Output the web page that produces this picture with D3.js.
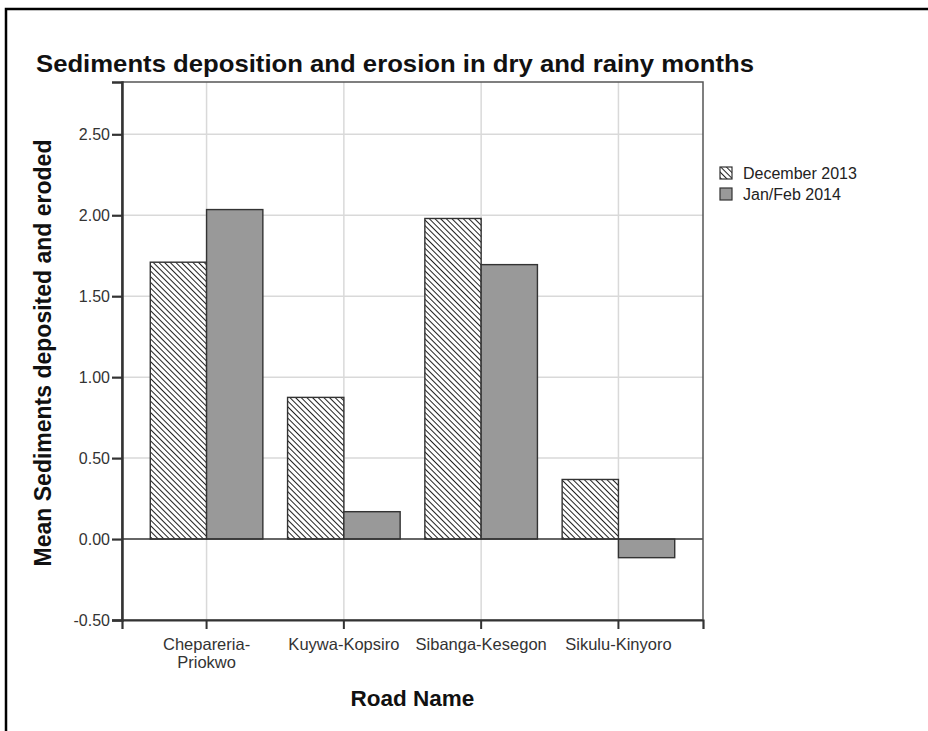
<!DOCTYPE html>
<html>
<head>
<meta charset="utf-8">
<script src="https://cdn.jsdelivr.net/npm/d3@7"></script>
<style>
  html, body { margin: 0; padding: 0; background: #fff; }
  svg { display: block; font-family: Arial, "Liberation Sans", sans-serif; }
</style>
</head>
<body>
<svg id="chart" width="928" height="731"></svg>
<script>
// ---- data ----
const categories = ["Chepareria-Priokwo", "Kuywa-Kopsiro", "Sibanga-Kesegon", "Sikulu-Kinyoro"];
const categoryLines = [["Chepareria-", "Priokwo"], ["Kuywa-Kopsiro"], ["Sibanga-Kesegon"], ["Sikulu-Kinyoro"]];
const seriesNames = ["December 2013", "Jan/Feb 2014"];
const dec2013 = [1.71, 0.875, 1.98, 0.368];
const janFeb2014 = [2.035, 0.169, 1.695, -0.115];
const yTicks = [-0.5, 0, 0.5, 1.0, 1.5, 2.0, 2.5];
const titleText = "Sediments deposition and erosion in dry and rainy months";
const xTitle = "Road Name";
const yTitle = "Mean Sediments deposited and eroded";

const FONT = "Arial, 'Liberation Sans', sans-serif";
const svg = d3.select("#chart");
const plot = { left: 122, right: 703, top: 82, bottom: 620 };

// outer frame
svg.append("rect").attr("x", 6).attr("y", 9).attr("width", 940).attr("height", 740)
  .attr("fill", "none").attr("stroke", "#000").attr("stroke-width", 2.5);

// hatch pattern
const defs = svg.append("defs");
const pat = defs.append("pattern").attr("id", "hatch").attr("patternUnits", "userSpaceOnUse")
  .attr("width", 4).attr("height", 4).attr("patternTransform", "rotate(-45)");
pat.append("rect").attr("width", 4).attr("height", 4).attr("fill", "#fff");
pat.append("line").attr("x1", 0).attr("y1", -1).attr("x2", 0).attr("y2", 5)
  .attr("stroke", "#222").attr("stroke-width", 2);

// scales
const y = d3.scaleLinear().domain([-0.5, 2.823]).range([plot.bottom, plot.top]);
const x0 = d3.scaleBand().domain(categories).range([plot.left, plot.right])
  .paddingInner(0).paddingOuter(0.116);
const x1 = d3.scaleBand().domain(seriesNames).range([0, x0.bandwidth() * 0.82]);
const groupOffset = (x0.bandwidth() - x1.range()[1]) / 2;

// gridlines
const grid = svg.append("g");
grid.selectAll("line.h").data(yTicks.filter(d => d !== -0.5 && d !== 0)).join("line")
  .attr("x1", plot.left).attr("x2", plot.right)
  .attr("y1", d => y(d)).attr("y2", d => y(d))
  .attr("stroke", "#d9d9d9").attr("stroke-width", 1.5);
grid.selectAll("line.v").data(categories).join("line")
  .attr("x1", d => x0(d) + x0.bandwidth() / 2).attr("x2", d => x0(d) + x0.bandwidth() / 2)
  .attr("y1", plot.top).attr("y2", plot.bottom)
  .attr("stroke", "#d9d9d9").attr("stroke-width", 1.5);

// bars
const rows = categories.map((c, i) => ({ cat: c, vals: [dec2013[i], janFeb2014[i]] }));
const groups = svg.append("g").selectAll("g").data(rows).join("g")
  .attr("transform", d => `translate(${x0(d.cat) + groupOffset},0)`);
groups.selectAll("rect").data(d => d.vals.map((v, j) => ({ s: seriesNames[j], v }))).join("rect")
  .attr("x", d => x1(d.s))
  .attr("width", x1.bandwidth())
  .attr("y", d => y(Math.max(0, d.v)))
  .attr("height", d => Math.abs(y(d.v) - y(0)))
  .attr("fill", d => d.s === seriesNames[0] ? "url(#hatch)" : "#999999")
  .attr("stroke", "#333").attr("stroke-width", 1.4);

// zero line
svg.append("line").attr("x1", plot.left).attr("x2", plot.right)
  .attr("y1", y(0)).attr("y2", y(0)).attr("stroke", "#333").attr("stroke-width", 1.5);

// plot border
svg.append("rect").attr("x", plot.left).attr("y", plot.top)
  .attr("width", plot.right - plot.left).attr("height", plot.bottom - plot.top)
  .attr("fill", "none").attr("stroke", "#555").attr("stroke-width", 1.5);

// y axis
const yAxis = svg.append("g").attr("transform", `translate(${plot.left},0)`)
  .call(d3.axisLeft(y).tickValues(yTicks).tickFormat(d => d.toFixed(2)).tickSize(10).tickPadding(2));
yAxis.select(".domain").attr("stroke", "#333").attr("stroke-width", 2.5);
yAxis.selectAll(".tick line").attr("stroke", "#333").attr("stroke-width", 2.2);
yAxis.selectAll("text").attr("font-size", 16).attr("fill", "#333").attr("font-family", FONT);

// x axis
const xAxis = svg.append("g").attr("transform", `translate(0,${plot.bottom})`)
  .call(d3.axisBottom(x0).tickSize(9).tickFormat(""));
xAxis.select(".domain").attr("stroke", "#333").attr("stroke-width", 2.2);
xAxis.selectAll(".tick line").attr("stroke", "#333").attr("stroke-width", 2);
xAxis.selectAll(".tick").each(function(d, i) {
  const t = d3.select(this).append("text").attr("fill", "#333").attr("font-size", 16.5)
    .attr("text-anchor", "middle").attr("font-family", FONT);
  categoryLines[i].forEach((ln, k) => {
    t.append("tspan").attr("x", 0).attr("y", 30 + k * 17.5).text(ln);
  });
});

// titles
svg.append("text").attr("x", 36).attr("y", 72).text(titleText)
  .attr("font-size", 24).attr("font-weight", "bold").attr("fill", "#111")
  .attr("textLength", 718).attr("lengthAdjust", "spacingAndGlyphs");
svg.append("text").attr("x", (plot.left + plot.right) / 2).attr("y", 706)
  .attr("text-anchor", "middle").attr("font-size", 22.5).attr("font-weight", "bold").attr("fill", "#111")
  .text(xTitle);
svg.append("text").attr("transform", `translate(51,353) rotate(-90)`)
  .attr("text-anchor", "middle").attr("font-size", 23).attr("font-weight", "bold").attr("fill", "#111")
  .text(yTitle);

// legend
const leg = svg.append("g").attr("transform", "translate(720,167)");
const li = leg.selectAll("g").data(seriesNames).join("g")
  .attr("transform", (d, i) => `translate(0,${i * 21})`);
li.append("rect").attr("width", 12).attr("height", 12)
  .attr("fill", (d, i) => i === 0 ? "url(#hatch)" : "#999999")
  .attr("stroke", "#333").attr("stroke-width", 1.2);
li.append("text").attr("x", 23).attr("y", 12).attr("font-size", 16).attr("fill", "#222")
  .attr("font-family", FONT).text(d => d);
</script>
</body>
</html>
